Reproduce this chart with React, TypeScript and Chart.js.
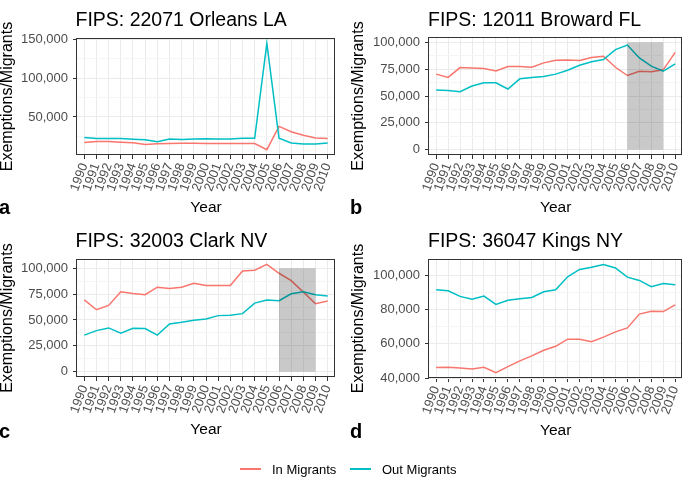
import React, { useEffect, useRef } from 'react';
import { Chart, registerables } from 'chart.js';

Chart.register(...registerables);

// ---- data ----------------------------------------------------------------
const years = [
  1990, 1991, 1992, 1993, 1994, 1995, 1996, 1997, 1998, 1999, 2000,
  2001, 2002, 2003, 2004, 2005, 2006, 2007, 2008, 2009, 2010,
];

const orleansIn = [17000, 18300, 18300, 17500, 16700, 14600, 15400, 15800, 16200, 16200, 15800, 15800, 15800, 15800, 15800, 7800, 37800, 31000, 26400, 23000, 22200];
const orleansOut = [23400, 22200, 22200, 22300, 21300, 20500, 18000, 21500, 21000, 21500, 22000, 21500, 21500, 22500, 22500, 145000, 22500, 16500, 15000, 15000, 16500];

const browardIn = [70400, 67300, 76500, 76200, 75600, 73400, 77500, 77500, 76800, 80900, 83300, 83600, 83000, 85800, 87000, 76800, 69100, 73100, 72500, 74400, 90700];
const browardOut = [55500, 55200, 54000, 59300, 62300, 62300, 56500, 66000, 67300, 68200, 70400, 74000, 78700, 82000, 84000, 93200, 97500, 85500, 77800, 73100, 80000];

const clarkIn = [69500, 59900, 64100, 77200, 75600, 74400, 81700, 80400, 81700, 85600, 83300, 83300, 83300, 97400, 98100, 103800, 95200, 88100, 76900, 65700, 68300];
const clarkOut = [35300, 39700, 42300, 37200, 42000, 41700, 35300, 46200, 47800, 49700, 51000, 54200, 54500, 56100, 66300, 69200, 68600, 75300, 77200, 74400, 73100];

const kingsIn = [46200, 46400, 46000, 45400, 46400, 43300, 46800, 50100, 53000, 56300, 58600, 62700, 62700, 61200, 63900, 67000, 69300, 77300, 79000, 78800, 82700];
const kingsOut = [91500, 90900, 87600, 86000, 87800, 82900, 85400, 86200, 87000, 90300, 91500, 99000, 103300, 104500, 106200, 104100, 98800, 96900, 93200, 95100, 94400];

// y-axis tick labels per county
const orleansTicks = [50000, 100000, 150000];
const browardTicks = [0, 25000, 50000, 75000, 100000];
const clarkTicks = [0, 25000, 50000, 75000, 100000];
const kingsTicks = [40000, 60000, 80000, 100000];

// shaded recession band, one block per year
const shadeYears = [2006, 2007, 2008];
const shadeBottom = 0;
const shadeTop = 100000;

const seriesNames = ['In Migrants', 'Out Migrants'];
const seriesColors = ['#F8766D', '#00BFC4'];

// ---- styling ---------------------------------------------------------------
const FONT = "'Liberation Sans', Arial, Helvetica, sans-serif";
const GRID_MAJOR = '#ebebeb';
const GRID_MINOR = '#f5f5f5';
const AXIS_DARK = '#333333';
const TICK_TEXT = '#4d4d4d';

type Box = { left: number; top: number; width: number; height: number };
type PanelSpec = {
  letter: string;
  title: string;
  inVals: number[];
  outVals: number[];
  ticks: number[];
  shaded: boolean;
  box: Box;
  pad: { left: number; top: number; right: number };
  yAxisWidth: number;
  titlePos: { left: number; top: number };
  letterPos: { left: number; top: number };
};

const panels: PanelSpec[] = [
  {
    letter: 'a', title: 'FIPS: 22071 Orleans LA', inVals: orleansIn, outVals: orleansOut,
    ticks: orleansTicks, shaded: false,
    box: { left: 0, top: 0, width: 346, height: 215 }, pad: { left: 0, top: 38, right: 11 }, yAxisWidth: 77,
    titlePos: { left: 75.5, top: 9.5 }, letterPos: { left: -1, top: 197 },
  },
  {
    letter: 'b', title: 'FIPS: 12011 Broward FL', inVals: browardIn, outVals: browardOut,
    ticks: browardTicks, shaded: true,
    box: { left: 346, top: 0, width: 346, height: 215 }, pad: { left: 5, top: 37, right: 5 }, yAxisWidth: 78,
    titlePos: { left: 428, top: 9.5 }, letterPos: { left: 350, top: 197 },
  },
  {
    letter: 'c', title: 'FIPS: 32003 Clark NV', inVals: clarkIn, outVals: clarkOut,
    ticks: clarkTicks, shaded: true,
    box: { left: 0, top: 221, width: 346, height: 216 }, pad: { left: 0, top: 38, right: 11 }, yAxisWidth: 77,
    titlePos: { left: 75.5, top: 231 }, letterPos: { left: -1, top: 421 },
  },
  {
    letter: 'd', title: 'FIPS: 36047 Kings NY', inVals: kingsIn, outVals: kingsOut,
    ticks: kingsTicks, shaded: false,
    box: { left: 346, top: 221, width: 346, height: 217 }, pad: { left: 5, top: 38, right: 5 }, yAxisWidth: 78,
    titlePos: { left: 428, top: 231 }, letterPos: { left: 350, top: 421 },
  },
];

// y range: data (plus the band when shown) widened by 5% on both ends
function yLimits(p: PanelSpec): [number, number] {
  const vals = [...p.inVals, ...p.outVals];
  if (p.shaded) vals.push(shadeBottom, shadeTop);
  const lo = Math.min(...vals);
  const hi = Math.max(...vals);
  const extra = (hi - lo) * 0.05;
  return [lo - extra, hi + extra];
}

// major ticks plus minor grid positions halfway between them
function yTickList(major: number[], lo: number, hi: number) {
  const step = major[1] - major[0];
  const list: { value: number; minor: boolean }[] = major.map((v) => ({ value: v, minor: false }));
  for (let i = -1; i < major.length; i++) {
    const m = major[0] + (i + 0.5) * step;
    if (m >= lo && m <= hi) list.push({ value: m, minor: true });
  }
  return list.sort((a, b) => a.value - b.value);
}

const panelDecor = {
  id: 'panelDecor',
  afterDatasetsDraw(chart: any, _args: any, opts: any) {
    const { ctx, chartArea: a, scales } = chart;
    const x = scales.x;
    const y = scales.y;
    if (opts.shaded) {
      ctx.save();
      ctx.beginPath();
      ctx.rect(a.left, a.top, a.right - a.left, a.bottom - a.top);
      ctx.clip();
      ctx.fillStyle = 'rgba(0,0,0,0.21)';
      const y0 = y.getPixelForValue(shadeTop);
      const y1 = y.getPixelForValue(shadeBottom);
      for (const yr of shadeYears) {
        const x0 = x.getPixelForValue(yr);
        const x1 = x.getPixelForValue(yr + 1);
        ctx.fillRect(x0, y0, x1 - x0, y1 - y0);
      }
      ctx.restore();
    }
    ctx.save();
    ctx.strokeStyle = AXIS_DARK;
    ctx.lineWidth = 1;
    const l = Math.round(a.left) - 0.5;
    const t = Math.round(a.top) + 0.5;
    const r = Math.round(a.right) - 0.5;
    const b = Math.round(a.bottom) - 0.5;
    ctx.strokeRect(l, t, r - l, b - t);
    ctx.restore();
  },
};

function Panel({ spec }: { spec: PanelSpec }) {
  const ref = useRef<HTMLCanvasElement | null>(null);

  useEffect(() => {
    const canvas = ref.current;
    if (!canvas) return;
    const [lo, hi] = yLimits(spec);
    const yTicks = yTickList(spec.ticks, lo, hi);

    const chart = new Chart(canvas, {
      type: 'line',
      data: {
        datasets: [
          {
            label: seriesNames[0],
            data: years.map((yr, i) => ({ x: yr, y: spec.inVals[i] })),
            borderColor: seriesColors[0],
            backgroundColor: seriesColors[0],
            borderWidth: 1.5,
            pointRadius: 0,
            tension: 0,
            order: 2,
          },
          {
            label: seriesNames[1],
            data: years.map((yr, i) => ({ x: yr, y: spec.outVals[i] })),
            borderColor: seriesColors[1],
            backgroundColor: seriesColors[1],
            borderWidth: 1.5,
            pointRadius: 0,
            tension: 0,
            order: 1,
          },
        ],
      },
      options: {
        responsive: false,
        animation: false,
        events: [],
        layout: { padding: { left: spec.pad.left, top: spec.pad.top, right: spec.pad.right, bottom: 0 } },
        plugins: {
          legend: { display: false },
          tooltip: { enabled: false },
          title: { display: false },
          panelDecor: { shaded: spec.shaded },
        } as any,
        scales: {
          x: {
            type: 'linear',
            bounds: 'data',
            min: years[0] - 0.6,
            max: years[years.length - 1] + 0.6,
            afterBuildTicks: (s: any) => {
              s.ticks = years.map((v) => ({ value: v }));
            },
            afterFit: (s: any) => {
              s.height = 60;
            },
            ticks: {
              autoSkip: false,
              minRotation: 70,
              maxRotation: 70,
              padding: 2,
              color: TICK_TEXT,
              font: { family: FONT, size: 13 },
              callback: (v: any) => String(v),
            },
            grid: {
              color: GRID_MAJOR,
              lineWidth: 1,
              tickColor: AXIS_DARK,
              tickLength: 4,
            },
            border: { display: false },
            title: {
              display: true,
              text: 'Year',
              color: '#000000',
              padding: 0,
              font: { family: FONT, size: 15.5, lineHeight: 1 },
            },
          },
          y: {
            type: 'linear',
            bounds: 'data',
            min: lo,
            max: hi,
            afterBuildTicks: (s: any) => {
              s.ticks = yTicks.map((t) => ({ ...t }));
            },
            afterFit: (s: any) => {
              s.width = spec.yAxisWidth;
            },
            ticks: {
              autoSkip: false,
              padding: 5,
              color: TICK_TEXT,
              font: { family: FONT, size: 13 },
              callback: (v: any, i: number, ts: any[]) =>
                ts[i] && ts[i].minor ? '' : Number(v).toLocaleString('en-US'),
            },
            grid: {
              color: (c: any) => (c.tick && c.tick.minor ? GRID_MINOR : GRID_MAJOR),
              tickColor: (c: any) => (c.tick && c.tick.minor ? 'rgba(0,0,0,0)' : AXIS_DARK),
              lineWidth: 1,
              tickLength: 4,
            },
            border: { display: false },
            title: {
              display: true,
              text: 'Exemptions/Migrants',
              color: '#000000',
              padding: 0,
              font: { family: FONT, size: 16, lineHeight: 1 },
            },
          },
        },
      } as any,
      plugins: [panelDecor],
    });
    return () => chart.destroy();
  }, [spec]);

  return (
    <>
      <canvas
        ref={ref}
        width={spec.box.width}
        height={spec.box.height}
        style={{
          position: 'absolute',
          left: spec.box.left,
          top: spec.box.top,
          width: spec.box.width,
          height: spec.box.height,
        }}
      />
      <div
        style={{
          position: 'absolute',
          left: spec.titlePos.left,
          top: spec.titlePos.top,
          fontSize: 19.5,
          lineHeight: 1,
          color: '#000',
          whiteSpace: 'nowrap',
        }}
      >
        {spec.title}
      </div>
      <div
        style={{
          position: 'absolute',
          left: spec.letterPos.left,
          top: spec.letterPos.top,
          fontSize: 20,
          fontWeight: 'bold',
          lineHeight: 1,
          color: '#000',
        }}
      >
        {spec.letter}
      </div>
    </>
  );
}

function LegendKey({ color, label, left }: { color: string; label: string; left: number }) {
  return (
    <>
      <div
        style={{
          position: 'absolute',
          left,
          top: 468.25,
          width: 21,
          height: 1.5,
          background: color,
        }}
      />
      <div
        style={{
          position: 'absolute',
          left: left + 32,
          top: 463.3,
          fontSize: 13,
          lineHeight: 1,
          color: '#000',
          whiteSpace: 'nowrap',
        }}
      >
        {label}
      </div>
    </>
  );
}

export default function App() {
  return (
    <div
      style={{
        position: 'absolute',
        left: 0,
        top: 0,
        width: 692,
        height: 488,
        background: '#ffffff',
        fontFamily: FONT,
        overflow: 'hidden',
      }}
    >
      {panels.map((p) => (
        <Panel key={p.letter} spec={p} />
      ))}
      <LegendKey color={seriesColors[0]} label={seriesNames[0]} left={240} />
      <LegendKey color={seriesColors[1]} label={seriesNames[1]} left={350} />
    </div>
  );
}
